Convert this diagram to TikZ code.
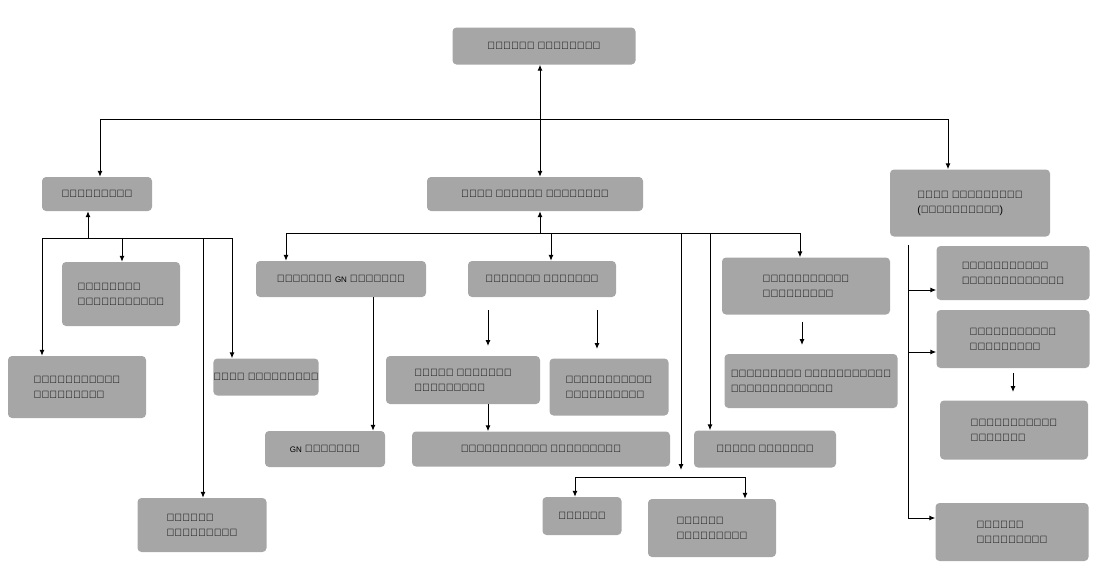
\documentclass[tikz,border=0pt]{standalone}
\usepackage{fontspec}
\setmainfont{Liberation Sans}
\usetikzlibrary{arrows.meta}
\begin{document}
\begin{tikzpicture}[x=1pt,y=-1pt,
 box/.style={fill=black!35,rounded corners=4pt,inner sep=0pt,align=left,font=\fontsize{10.5}{15}\selectfont},
 ar/.style={-{Latex[length=6pt,width=5pt]},line width=1pt},
 ln/.style={line width=1pt}]
\useasboundingbox (0,0) rectangle (1098,579);
\newcommand{\bx}[6]{\node[box,minimum width=#4,minimum height=#5] (#1) at (#2,#3) {#6};}
\bx{ps}{544}{46}{183}{37}{பிரதேச செயலாளர்}
\bx{acc}{97}{194}{110}{34}{கணக்காளர்}
\bx{aps}{535}{194}{216}{34}{உதவி பிரதேச செயலாளர்}
\bx{adp}{970}{203}{160}{67}{உதவி இயக்குநர்\\(திட்டமிடல்)}
\bx{pen}{121}{294}{118}{64}{ஓய்வூதிய\\உத்தியோகத்த}
\bx{ma1}{77}{387}{138}{62}{முகாமைத்துவ\\உதவியாளர்}
\bx{fin}{266}{377}{105}{37}{நிதி உதவியாளர்}
\bx{oa1}{202}{525}{129}{54}{அலுவலக\\உதவியாளர்}
\bx{agn}{341}{279}{170}{36}{நிர்வாக {\footnotesize GN} அதிகாரி}
\bx{gn}{325}{449}{120}{36}{{\footnotesize GN} அதிகாரி}
\bx{ao}{542}{279}{148}{36}{நிர்வாக அதிகாரி}
\bx{cma}{463}{380}{154}{48}{தலைமை நிர்வாக\\உதவியாளர்}
\bx{do1}{609}{387}{119}{57}{அபிவிருத்தி\\உத்தியோகத்}
\bx{ma2}{541}{449}{258}{35}{முகாமைத்துவ உதவியாளர்}
\bx{sm}{806}{286}{168}{57}{முகாமையாளர்\\சமுர்த்தி}
\bx{sdo}{811}{381}{173}{54}{சமுர்த்தி அபிவிருத்தி\\உத்தியோகத்தர்}
\bx{fo}{765}{449}{142}{37}{புலம் அலுவலர்}
\bx{dr}{582}{516}{79}{38}{இயக்கி}
\bx{oa2}{712}{528}{128}{58}{அலுவலக\\உதவியாளர்}
\bx{do2}{1013}{273}{153}{54}{அபிவிருத்தி\\உத்தியோகத்தர்}
\bx{ta}{1013}{339}{153}{58}{தொழில்நுட்ப\\உதவியாளர்}
\bx{to}{1014}{430}{148}{59}{தொழில்நுட்ப\\அலுவலர்}
\bx{oa3}{1012}{532}{153}{58}{அலுவலக\\உதவியாளர்}
% top
\draw[ar,{Latex[length=6pt,width=5pt]}-{Latex[length=6pt,width=5pt]}] (ps.south -| 540,0) -- (aps.north -| 540,0);
\draw[ln] (100,119) -- (948,119);
\draw[ar] (100,119) -- (acc.north -| 100,0);
\draw[ar] (948,119) -- (adp.north -| 948,0);
% accountant
\draw[ln] (42,238) -- (232,238);
\draw[ar] (88,238) -- (acc.south -| 88,0);
\draw[ar] (122,238) -- (pen.north -| 122,0);
\draw[ar] (42,238) -- (ma1.north -| 42,0);
\draw[ar] (232,238) -- (fin.north -| 232,0);
\draw[ar] (203,238) -- (oa1.north -| 203,0);
% middle
\draw[ln] (286,233) -- (800,233);
\draw[ar] (540,233) -- (aps.south -| 540,0);
\draw[ar] (286,233) -- (agn.north -| 286,0);
\draw[ar] (551,233) -- (ao.north -| 551,0);
\draw[ar] (800,233) -- (sm.north -| 800,0);
\draw[ar] (710,233) -- (fo.north -| 710,0);
\coordinate (b1) at (681,470);
\draw[ar] (681,233) -- (b1);
\draw[ln] (575,477) -- (745,477);
\draw[ar] (575,477) -- (dr.north -| 575,0);
\draw[ar] (745,477) -- (oa2.north -| 745,0);
\draw[ar] (agn.south -| 373,0) -- (gn.north -| 373,0);
\coordinate (c1) at (488,310); \coordinate (c2) at (488,346);
\coordinate (c3) at (597,310); \coordinate (c4) at (597,349);
\draw[ar] (c1) -- (c2); \draw[ar] (c3) -- (c4);
\draw[ar] (cma.south -| 488,0) -- (ma2.north -| 488,0);
\coordinate (c5) at (802,322); \coordinate (c6) at (802,345);
\draw[ar] (c5) -- (c6);
% right
\draw[ln] (908,245) -- (908,518);
\draw[ar] (908,290) -- (do2.west |- 0,290);
\draw[ar] (908,352) -- (ta.west |- 0,352);
\draw[ar] (908,518) -- (oa3.west |- 0,518);
\coordinate (c7) at (1013,373); \coordinate (c8) at (1013,392);
\draw[ar] (c7) -- (c8);
\end{tikzpicture}
\end{document}
